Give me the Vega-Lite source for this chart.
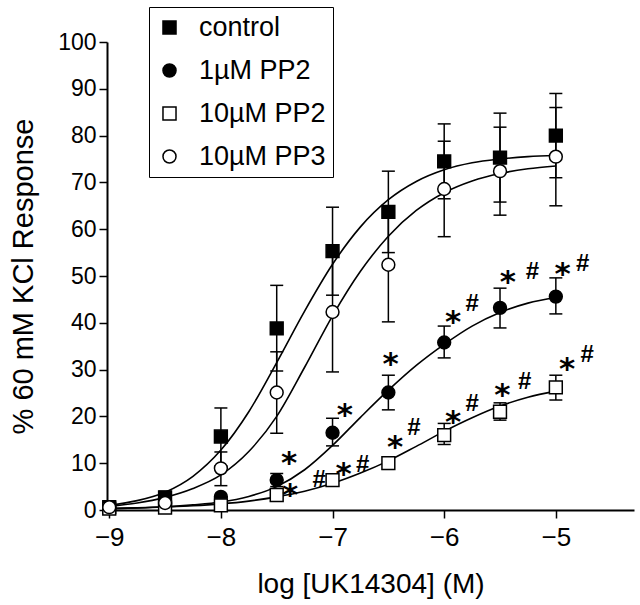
{
  "$schema": "https://vega.github.io/schema/vega-lite/v6.json",
  "width": 527,
  "height": 468,
  "autosize": {"type": "none"},
  "padding": {"left": 107, "top": 42, "right": 6, "bottom": 95},
  "background": "white",
  "config": {
    "font": "Liberation Sans",
    "view": {"stroke": null},
    "axis": {"grid": false, "domainColor": "black", "domainWidth": 2, "tickColor": "black", "tickWidth": 1.5, "tickSize": 8, "labelColor": "black", "titleColor": "black", "labelFont": "Liberation Sans", "titleFont": "Liberation Sans", "titleFontWeight": "normal"},
    "legend": {"title": null, "orient": "none", "legendX": 42, "legendY": -35, "strokeColor": "black", "padding": 7, "labelFontSize": 27, "labelFont": "Liberation Sans", "labelColor": "black", "symbolSize": 170, "symbolStrokeWidth": 1.5, "rowPadding": 15, "labelOffset": 16}
  },
  "datasets": {
    "pts": [
      {"g": "control", "x": -9, "y": 0.6}, {"g": "control", "x": -8.5, "y": 2.7}, {"g": "control", "x": -8, "y": 15.7}, {"g": "control", "x": -7.5, "y": 38.8}, {"g": "control", "x": -7, "y": 55.3}, {"g": "control", "x": -6.5, "y": 63.7}, {"g": "control", "x": -6, "y": 74.5}, {"g": "control", "x": -5.5, "y": 75.3}, {"g": "control", "x": -5, "y": 80},
      {"g": "1µM PP2", "x": -9, "y": 0.5}, {"g": "1µM PP2", "x": -8.5, "y": 1.0}, {"g": "1µM PP2", "x": -8, "y": 2.8}, {"g": "1µM PP2", "x": -7.5, "y": 6.4}, {"g": "1µM PP2", "x": -7, "y": 16.5}, {"g": "1µM PP2", "x": -6.5, "y": 25.1}, {"g": "1µM PP2", "x": -6, "y": 35.8}, {"g": "1µM PP2", "x": -5.5, "y": 43.2}, {"g": "1µM PP2", "x": -5, "y": 45.6},
      {"g": "10µM PP2", "x": -9, "y": 0.3}, {"g": "10µM PP2", "x": -8.5, "y": 0.5}, {"g": "10µM PP2", "x": -8, "y": 1.0}, {"g": "10µM PP2", "x": -7.5, "y": 3.2}, {"g": "10µM PP2", "x": -7, "y": 6.4}, {"g": "10µM PP2", "x": -6.5, "y": 10.0}, {"g": "10µM PP2", "x": -6, "y": 16.0}, {"g": "10µM PP2", "x": -5.5, "y": 21.0}, {"g": "10µM PP2", "x": -5, "y": 26.2},
      {"g": "10µM PP3", "x": -9, "y": 0.6}, {"g": "10µM PP3", "x": -8.5, "y": 1.5}, {"g": "10µM PP3", "x": -8, "y": 8.9}, {"g": "10µM PP3", "x": -7.5, "y": 25.1}, {"g": "10µM PP3", "x": -7, "y": 42.3}, {"g": "10µM PP3", "x": -6.5, "y": 52.4}, {"g": "10µM PP3", "x": -6, "y": 68.6}, {"g": "10µM PP3", "x": -5.5, "y": 72.4}, {"g": "10µM PP3", "x": -5, "y": 75.5}
    ],
    "err": [
      {"g": "control", "x": -8.5, "lo": 1.5, "hi": 4}, {"g": "control", "x": -8, "lo": 9.4, "hi": 21.8}, {"g": "control", "x": -7.5, "lo": 29.7, "hi": 48}, {"g": "control", "x": -7, "lo": 45.9, "hi": 64.7}, {"g": "control", "x": -6.5, "lo": 55, "hi": 72.4}, {"g": "control", "x": -6, "lo": 66.5, "hi": 82.5}, {"g": "control", "x": -5.5, "lo": 65.8, "hi": 84.8}, {"g": "control", "x": -5, "lo": 71, "hi": 89},
      {"g": "1µM PP2", "x": -7.5, "lo": 5, "hi": 7.8}, {"g": "1µM PP2", "x": -7, "lo": 13.7, "hi": 19.6}, {"g": "1µM PP2", "x": -6.5, "lo": 21.4, "hi": 28.8}, {"g": "1µM PP2", "x": -6, "lo": 32.5, "hi": 39.3}, {"g": "1µM PP2", "x": -5.5, "lo": 38.9, "hi": 47.4}, {"g": "1µM PP2", "x": -5, "lo": 41.9, "hi": 49.6},
      {"g": "10µM PP2", "x": -6.5, "lo": 8.7, "hi": 11.3}, {"g": "10µM PP2", "x": -6, "lo": 14, "hi": 18.5}, {"g": "10µM PP2", "x": -5.5, "lo": 19.2, "hi": 22.9}, {"g": "10µM PP2", "x": -5, "lo": 23.5, "hi": 28.8},
      {"g": "10µM PP3", "x": -8, "lo": 5.2, "hi": 12.4}, {"g": "10µM PP3", "x": -7.5, "lo": 16.4, "hi": 33.8}, {"g": "10µM PP3", "x": -7, "lo": 29.5, "hi": 55.1}, {"g": "10µM PP3", "x": -6.5, "lo": 40.2, "hi": 65}, {"g": "10µM PP3", "x": -6, "lo": 58.4, "hi": 78.8}, {"g": "10µM PP3", "x": -5.5, "lo": 63, "hi": 81.8}, {"g": "10µM PP3", "x": -5, "lo": 65, "hi": 86}
    ],
    "fit": [
      {"g": "control", "x": -9, "y": 1.0}, {"g": "control", "x": -8.75, "y": 2.0}, {"g": "control", "x": -8.5, "y": 3.8}, {"g": "control", "x": -8.25, "y": 7.2}, {"g": "control", "x": -8, "y": 12.8}, {"g": "control", "x": -7.75, "y": 21}, {"g": "control", "x": -7.5, "y": 31.5}, {"g": "control", "x": -7.25, "y": 42.5}, {"g": "control", "x": -7, "y": 52.5}, {"g": "control", "x": -6.75, "y": 60.5}, {"g": "control", "x": -6.5, "y": 66.3}, {"g": "control", "x": -6.25, "y": 70.2}, {"g": "control", "x": -6, "y": 72.7}, {"g": "control", "x": -5.75, "y": 74.2}, {"g": "control", "x": -5.5, "y": 75.0}, {"g": "control", "x": -5.25, "y": 75.5}, {"g": "control", "x": -5, "y": 75.8},
      {"g": "10µM PP3", "x": -9, "y": 0.8}, {"g": "10µM PP3", "x": -8.75, "y": 1.5}, {"g": "10µM PP3", "x": -8.5, "y": 2.7}, {"g": "10µM PP3", "x": -8.25, "y": 4.6}, {"g": "10µM PP3", "x": -8, "y": 7.5}, {"g": "10µM PP3", "x": -7.75, "y": 12.5}, {"g": "10µM PP3", "x": -7.5, "y": 20}, {"g": "10µM PP3", "x": -7.25, "y": 30.5}, {"g": "10µM PP3", "x": -7, "y": 41.5}, {"g": "10µM PP3", "x": -6.75, "y": 51}, {"g": "10µM PP3", "x": -6.5, "y": 58.5}, {"g": "10µM PP3", "x": -6.25, "y": 64}, {"g": "10µM PP3", "x": -6, "y": 67.8}, {"g": "10µM PP3", "x": -5.75, "y": 70.3}, {"g": "10µM PP3", "x": -5.5, "y": 71.9}, {"g": "10µM PP3", "x": -5.25, "y": 72.9}, {"g": "10µM PP3", "x": -5, "y": 73.5},
      {"g": "1µM PP2", "x": -9, "y": 0.3}, {"g": "1µM PP2", "x": -8.75, "y": 0.45}, {"g": "1µM PP2", "x": -8.5, "y": 0.7}, {"g": "1µM PP2", "x": -8.25, "y": 1.1}, {"g": "1µM PP2", "x": -8, "y": 1.7}, {"g": "1µM PP2", "x": -7.75, "y": 2.9}, {"g": "1µM PP2", "x": -7.5, "y": 5.0}, {"g": "1µM PP2", "x": -7.25, "y": 8.6}, {"g": "1µM PP2", "x": -7, "y": 13.8}, {"g": "1µM PP2", "x": -6.75, "y": 19.8}, {"g": "1µM PP2", "x": -6.5, "y": 25.6}, {"g": "1µM PP2", "x": -6.25, "y": 30.9}, {"g": "1µM PP2", "x": -6, "y": 35.4}, {"g": "1µM PP2", "x": -5.75, "y": 39.3}, {"g": "1µM PP2", "x": -5.5, "y": 42.2}, {"g": "1µM PP2", "x": -5.25, "y": 44.2}, {"g": "1µM PP2", "x": -5, "y": 45.4},
      {"g": "10µM PP2", "x": -9, "y": 0.3}, {"g": "10µM PP2", "x": -8.75, "y": 0.45}, {"g": "10µM PP2", "x": -8.5, "y": 0.65}, {"g": "10µM PP2", "x": -8.25, "y": 0.9}, {"g": "10µM PP2", "x": -8, "y": 1.3}, {"g": "10µM PP2", "x": -7.75, "y": 1.9}, {"g": "10µM PP2", "x": -7.5, "y": 2.8}, {"g": "10µM PP2", "x": -7.25, "y": 4.0}, {"g": "10µM PP2", "x": -7, "y": 5.7}, {"g": "10µM PP2", "x": -6.75, "y": 7.9}, {"g": "10µM PP2", "x": -6.5, "y": 10.5}, {"g": "10µM PP2", "x": -6.25, "y": 13.6}, {"g": "10µM PP2", "x": -6, "y": 16.8}, {"g": "10µM PP2", "x": -5.75, "y": 19.7}, {"g": "10µM PP2", "x": -5.5, "y": 22.2}, {"g": "10µM PP2", "x": -5.25, "y": 24.1}, {"g": "10µM PP2", "x": -5, "y": 25.4}
    ],
    "stars": [
      {"x": -7.39, "y": 11.6}, {"x": -6.89, "y": 21.8}, {"x": -6.48, "y": 32.7}, {"x": -5.92, "y": 41.7}, {"x": -5.43, "y": 50.2}, {"x": -4.94, "y": 52},
      {"x": -7.38, "y": 4.6}, {"x": -6.9, "y": 9.2}, {"x": -6.44, "y": 15}, {"x": -5.92, "y": 20.3}, {"x": -5.48, "y": 26}, {"x": -4.9, "y": 31.6}
    ],
    "hashes": [
      {"x": -5.75, "y": 44.4}, {"x": -5.21, "y": 51.3}, {"x": -4.76, "y": 53},
      {"x": -7.12, "y": 6.8}, {"x": -6.73, "y": 10}, {"x": -6.27, "y": 18}, {"x": -5.75, "y": 23}, {"x": -5.28, "y": 27.8}, {"x": -4.72, "y": 33.5}
    ]
  },
  "layer": [
    {
      "data": {"name": "fit"},
      "mark": {"type": "line", "color": "black", "strokeWidth": 1.6, "interpolate": "monotone"},
      "encoding": {
        "x": {"field": "x", "type": "quantitative", "scale": {"domain": [-9.02, -4.3], "nice": false, "zero": false},
              "axis": {"values": [-9, -8, -7, -6, -5], "format": "d", "title": "log [UK14304] (M)", "labelFontSize": 26, "titleFontSize": 28, "labelPadding": 6, "titlePadding": 20}},
        "y": {"field": "y", "type": "quantitative", "scale": {"domain": [0, 100], "nice": false},
              "axis": {"values": [0, 10, 20, 30, 40, 50, 60, 70, 80, 90, 100], "title": "% 60 mM KCl Response", "labelFontSize": 23, "titleFontSize": 29, "labelPadding": 3, "titlePadding": 19}},
        "detail": {"field": "g"}
      }
    },
    {
      "data": {"name": "err"},
      "mark": {"type": "rule", "color": "black", "strokeWidth": 1.5},
      "encoding": {
        "x": {"field": "x", "type": "quantitative"},
        "y": {"field": "lo", "type": "quantitative"},
        "y2": {"field": "hi"}
      }
    },
    {
      "data": {"name": "err"},
      "mark": {"type": "tick", "color": "black", "thickness": 1.5, "size": 13, "orient": "horizontal", "opacity": 1},
      "encoding": {
        "x": {"field": "x", "type": "quantitative"},
        "y": {"field": "lo", "type": "quantitative"}
      }
    },
    {
      "data": {"name": "err"},
      "mark": {"type": "tick", "color": "black", "thickness": 1.5, "size": 13, "orient": "horizontal", "opacity": 1},
      "encoding": {
        "x": {"field": "x", "type": "quantitative"},
        "y": {"field": "hi", "type": "quantitative"}
      }
    },
    {
      "data": {"name": "pts"},
      "mark": {"type": "point", "filled": true, "strokeWidth": 1.5, "opacity": 1, "size": 165},
      "encoding": {
        "x": {"field": "x", "type": "quantitative"},
        "y": {"field": "y", "type": "quantitative"},
        "shape": {"field": "g", "type": "nominal",
                  "scale": {"domain": ["control", "1µM PP2", "10µM PP2", "10µM PP3"], "range": ["square", "circle", "square", "circle"]}},
        "fill": {"field": "g", "type": "nominal",
                 "scale": {"domain": ["control", "1µM PP2", "10µM PP2", "10µM PP3"], "range": ["black", "black", "white", "white"]}},
        "stroke": {"field": "g", "type": "nominal",
                 "scale": {"domain": ["control", "1µM PP2", "10µM PP2", "10µM PP3"], "range": ["black", "black", "black", "black"]}}
      }
    },
    {
      "data": {"name": "stars"},
      "mark": {"type": "text", "text": "*", "font": "DejaVu Sans", "fontWeight": "bold", "fontSize": 31, "baseline": "alphabetic", "align": "center", "dy": 17, "color": "black"},
      "encoding": {
        "x": {"field": "x", "type": "quantitative"},
        "y": {"field": "y", "type": "quantitative"}
      }
    },
    {
      "data": {"name": "hashes"},
      "mark": {"type": "text", "text": "#", "font": "Liberation Sans", "fontWeight": "bold", "fontSize": 24, "baseline": "alphabetic", "align": "center", "dy": 9, "color": "black"},
      "encoding": {
        "x": {"field": "x", "type": "quantitative"},
        "y": {"field": "y", "type": "quantitative"}
      }
    }
  ]
}
